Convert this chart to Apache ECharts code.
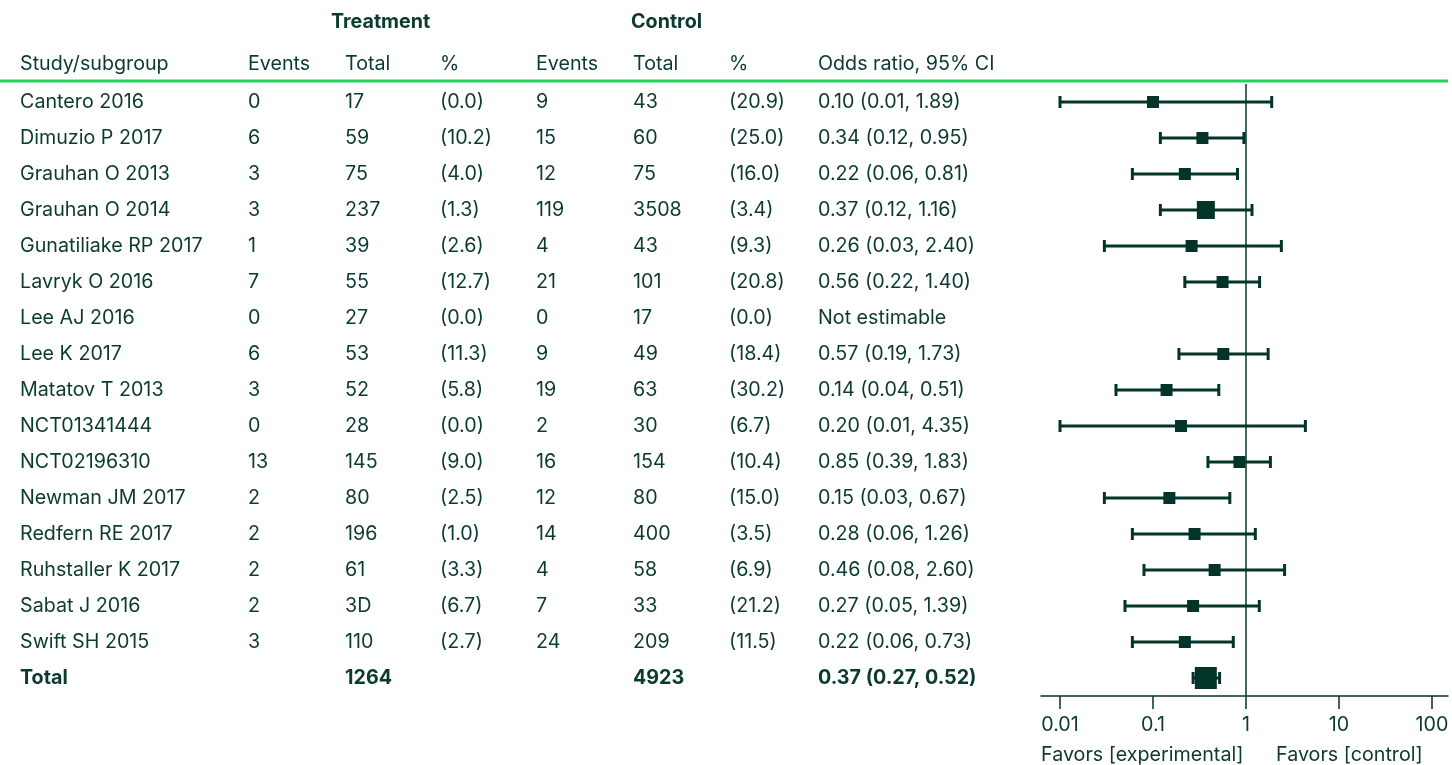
<!DOCTYPE html>
<html>
<head>
<meta charset="utf-8">
<script src="https://cdn.jsdelivr.net/npm/echarts@6/dist/echarts.min.js"></script>
<style>
  html, body { margin: 0; padding: 0; background: #ffffff; }
  #chart { width: 1452px; height: 765px; }
</style>
</head>
<body>
<div id="chart"></div>
<script>
// ---- Study data ----
const studies = [
  'Cantero 2016', 'Dimuzio P 2017', 'Grauhan O 2013', 'Grauhan O 2014',
  'Gunatiliake RP 2017', 'Lavryk O 2016', 'Lee AJ 2016', 'Lee K 2017',
  'Matatov T 2013', 'NCT01341444', 'NCT02196310', 'Newman JM 2017',
  'Redfern RE 2017', 'Ruhstaller K 2017', 'Sabat J 2016', 'Swift SH 2015'
];
const trtEvents = [0, 6, 3, 3, 1, 7, 0, 6, 3, 0, 13, 2, 2, 2, 2, 3];
const trtTotal  = ['17', '59', '75', '237', '39', '55', '27', '53', '52', '28', '145', '80', '196', '61', '3D', '110'];
const trtPct    = ['(0.0)', '(10.2)', '(4.0)', '(1.3)', '(2.6)', '(12.7)', '(0.0)', '(11.3)', '(5.8)', '(0.0)', '(9.0)', '(2.5)', '(1.0)', '(3.3)', '(6.7)', '(2.7)'];
const ctlEvents = [9, 15, 12, 119, 4, 21, 0, 9, 19, 2, 16, 12, 14, 4, 7, 24];
const ctlTotal  = [43, 60, 75, 3508, 43, 101, 17, 49, 63, 30, 154, 80, 400, 58, 33, 209];
const ctlPct    = ['(20.9)', '(25.0)', '(16.0)', '(3.4)', '(9.3)', '(20.8)', '(0.0)', '(18.4)', '(30.2)', '(6.7)', '(10.4)', '(15.0)', '(3.5)', '(6.9)', '(21.2)', '(11.5)'];
const oddsRatio = [0.10, 0.34, 0.22, 0.37, 0.26, 0.56, null, 0.57, 0.14, 0.20, 0.85, 0.15, 0.28, 0.46, 0.27, 0.22];
const ciLower   = [0.01, 0.12, 0.06, 0.12, 0.03, 0.22, null, 0.19, 0.04, 0.01, 0.39, 0.03, 0.06, 0.08, 0.05, 0.06];
const ciUpper   = [1.89, 0.95, 0.81, 1.16, 2.40, 1.40, null, 1.73, 0.51, 4.35, 1.83, 0.67, 1.26, 2.60, 1.39, 0.73];

// Pooled result
const totalTrt = 1264;
const totalCtl = 4923;
const pooled = { or: 0.37, lo: 0.27, hi: 0.52 };

// Axis ticks (odds ratio, log scale)
const orTicks = [0.01, 0.1, 1, 10, 100];

// ---- Styling ----
const FONT = 'Inter, "Noto Sans", sans-serif';
const INK = '#0b3a2e';
const MARK = '#03342a';
const ACCENT = '#22d45e';
const FS = 19.7;

// Left edge of each table column (in table-grid units = px)
const colX = [20, 248, 345, 440, 536, 633, 729, 818];
// Square size of each estimate; larger boxes for heavier studies
const boxSize = { 'Grauhan O 2014': 18, 'Total': 22 };
const BOX_DEFAULT = 12;

const rows = studies.concat(['Total']);
const N = rows.length;

function fmt(v) { return v.toFixed(2); }
function orLabel(o, l, h) { return o == null ? 'Not estimable' : fmt(o) + ' (' + fmt(l) + ', ' + fmt(h) + ')'; }

const tableCells = rows.map(function (name, i) {
  if (i < studies.length) {
    return [name, String(trtEvents[i]), trtTotal[i], trtPct[i], String(ctlEvents[i]), String(ctlTotal[i]), ctlPct[i],
            orLabel(oddsRatio[i], ciLower[i], ciUpper[i])];
  }
  return ['Total', '', String(totalTrt), '', '', String(totalCtl), '', orLabel(pooled.or, pooled.lo, pooled.hi)];
});

const forestData = [];
studies.forEach(function (name, i) {
  if (oddsRatio[i] != null) forestData.push([oddsRatio[i], ciLower[i], ciUpper[i], i]);
});
forestData.push([pooled.or, pooled.lo, pooled.hi, studies.length]);

const chart = echarts.init(document.getElementById('chart'), null, { renderer: 'canvas' });

const GRID_TOP = 84;
const GRID_H = N * 36;

// row axis: one unit per table row, first row at the top
function rowAxis(gridIndex) {
  return { gridIndex: gridIndex, type: 'value', min: -0.5, max: N - 0.5, inverse: true, show: false };
}

const option = {
  backgroundColor: '#ffffff',
  animation: false,
  textStyle: { fontFamily: FONT },
  grid: [
    { left: 0, width: 1040, top: GRID_TOP, height: GRID_H },
    { left: 1041, width: 407, top: GRID_TOP, height: GRID_H }
  ],
  xAxis: [
    { gridIndex: 0, type: 'value', min: 0, max: 1040, show: false },
    {
      gridIndex: 1, type: 'log', logBase: 10, min: 0.00625, max: 148.6,
      axisLine: { show: true, onZero: false, lineStyle: { color: MARK, width: 1.5 } },
      axisTick: { show: true, customValues: orTicks, length: 13, lineStyle: { color: MARK, width: 1.5 } },
      axisLabel: {
        customValues: orTicks, color: INK, fontSize: FS, fontFamily: FONT, margin: 19,
        formatter: function (v) { return String(+(+v).toPrecision(3)); }
      },
      splitLine: { show: false },
      minorTick: { show: false }
    }
  ],
  yAxis: [rowAxis(0), rowAxis(1)],
  graphic: [
    { type: 'text', left: 331, top: 12, style: { text: 'Treatment', fill: INK, font: 'bold ' + FS + 'px ' + FONT } },
    { type: 'text', left: 631, top: 12, style: { text: 'Control', fill: INK, font: 'bold ' + FS + 'px ' + FONT } },
    { type: 'text', left: colX[0], top: 54, style: { text: 'Study/subgroup', fill: INK, font: FS + 'px ' + FONT } },
    { type: 'text', left: colX[1], top: 54, style: { text: 'Events', fill: INK, font: FS + 'px ' + FONT } },
    { type: 'text', left: colX[2], top: 54, style: { text: 'Total', fill: INK, font: FS + 'px ' + FONT } },
    { type: 'text', left: colX[3], top: 54, style: { text: '%', fill: INK, font: FS + 'px ' + FONT } },
    { type: 'text', left: colX[4], top: 54, style: { text: 'Events', fill: INK, font: FS + 'px ' + FONT } },
    { type: 'text', left: colX[5], top: 54, style: { text: 'Total', fill: INK, font: FS + 'px ' + FONT } },
    { type: 'text', left: colX[6], top: 54, style: { text: '%', fill: INK, font: FS + 'px ' + FONT } },
    { type: 'text', left: colX[7], top: 54, style: { text: 'Odds ratio, 95% CI', fill: INK, font: FS + 'px ' + FONT } },
    { type: 'line', shape: { x1: 0, y1: 81, x2: 1448, y2: 81 }, style: { stroke: ACCENT, lineWidth: 3 } },
    { type: 'text', left: 1041, top: 745, style: { text: 'Favors [experimental]', fill: INK, font: FS + 'px ' + FONT } },
    { type: 'text', left: 1276, top: 745, style: { text: 'Favors [control]', fill: INK, font: FS + 'px ' + FONT } }
  ],
  series: [
    {
      // table body: one text row per study plus the pooled total
      type: 'custom',
      xAxisIndex: 0, yAxisIndex: 0,
      silent: true,
      clip: false,
      data: rows.map(function (_, i) { return [0, i]; }),
      encode: { x: 0, y: 1 },
      renderItem: function (params, api) {
        const i = api.value(1);
        const cells = tableCells[i];
        const isTotal = i === studies.length;
        const children = [];
        cells.forEach(function (txt, c) {
          if (!txt) return;
          const p = api.coord([colX[c], i]);
          children.push({
            type: 'text',
            x: p[0], y: p[1],
            style: {
              text: txt, fill: INK, align: 'left', verticalAlign: 'middle',
              font: (isTotal ? 'bold ' : '') + FS + 'px ' + FONT
            }
          });
        });
        return { type: 'group', children: children };
      }
    },
    {
      // confidence intervals and point estimates
      type: 'custom',
      xAxisIndex: 1, yAxisIndex: 1,
      silent: true,
      clip: false,
      data: forestData,
      encode: { x: [0, 1, 2], y: 3 },
      renderItem: function (params, api) {
        const row = api.value(3);
        const mid = api.coord([api.value(0), row]);
        const lo = api.coord([api.value(1), row]);
        const hi = api.coord([api.value(2), row]);
        const s = boxSize[rows[row]] || BOX_DEFAULT;
        const capH = 12;
        const lineStyle = { stroke: MARK, lineWidth: 3 };
        return {
          type: 'group',
          children: [
            { type: 'line', shape: { x1: lo[0], y1: mid[1], x2: hi[0], y2: mid[1] }, style: lineStyle },
            { type: 'line', shape: { x1: lo[0], y1: mid[1] - capH / 2, x2: lo[0], y2: mid[1] + capH / 2 }, style: lineStyle },
            { type: 'line', shape: { x1: hi[0], y1: mid[1] - capH / 2, x2: hi[0], y2: mid[1] + capH / 2 }, style: lineStyle },
            { type: 'rect', shape: { x: mid[0] - s / 2, y: mid[1] - s / 2, width: s, height: s }, style: { fill: MARK } }
          ]
        };
      },
      markLine: {
        silent: true,
        symbol: 'none',
        label: { show: false },
        lineStyle: { color: MARK, width: 1.5, type: 'solid' },
        data: [{ xAxis: 1 }]
      }
    }
  ]
};

chart.setOption(option);
</script>
</body>
</html>
